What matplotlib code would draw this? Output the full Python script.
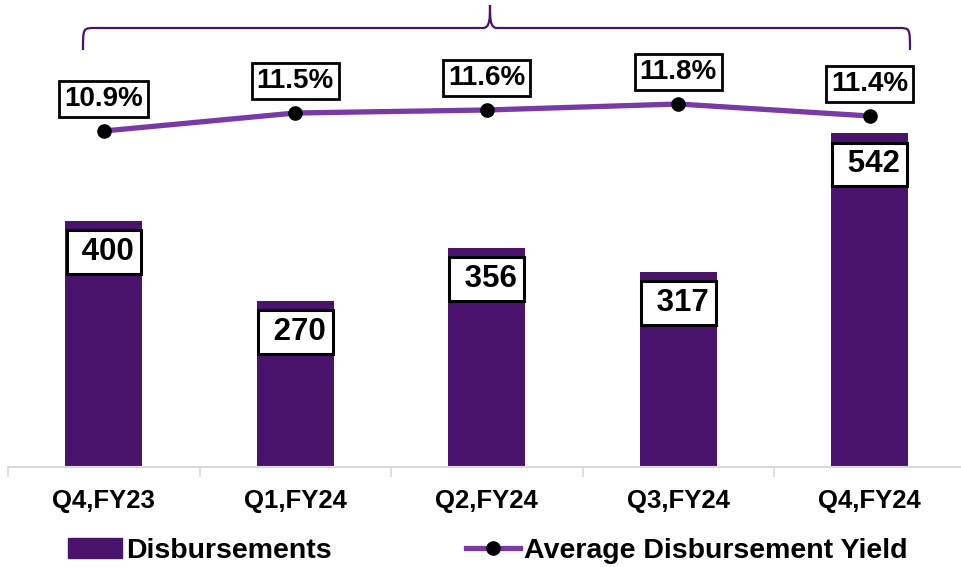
import matplotlib
matplotlib.use("Agg")
import matplotlib.pyplot as plt
from matplotlib.path import Path
from matplotlib.patches import PathPatch, Patch
from matplotlib.lines import Line2D
from matplotlib import font_manager

names = {f.name for f in font_manager.fontManager.ttflist}
fam = ['Liberation Sans Narrow'] if 'Liberation Sans Narrow' in names else ['Liberation Sans']
plt.rcParams['font.family'] = fam + ['DejaVu Sans']
plt.rcParams['font.weight'] = 'bold'

categories = ["Q4,FY23", "Q1,FY24", "Q2,FY24", "Q3,FY24", "Q4,FY24"]
disbursements = [400, 270, 356, 317, 542]
yields = [10.9, 11.5, 11.6, 11.8, 11.4]
yield_labels = ["10.9%", "11.5%", "11.6%", "11.8%", "11.4%"]

BAR = "#4A136C"
LINE = "#7A3AA6"

W, H = 961, 567
fig = plt.figure(figsize=(W / 100, H / 100), dpi=100)
ax = fig.add_axes([8 / W, (H - 467) / H, 5 * 191.5 / W, 467 / H])
ax2 = ax.twinx()
ax2.set_position(ax.get_position())

x = list(range(len(categories)))
ax.bar(x, disbursements, width=0.4, color=BAR, zorder=2)
ax.set_xlim(-0.5, 4.5)
ax.set_ylim(0, 467 / 0.6155)
ax2.set_ylim(10.9 - 336 / 30.0, 10.9 + 131 / 30.0)

ax2.plot(x, yields, color=LINE, lw=3.8, marker='o', markersize=9.5,
         markerfacecolor='black', markeredgecolor='black', zorder=5)

for s in ['top', 'right', 'left']:
    ax.spines[s].set_visible(False)
    ax2.spines[s].set_visible(False)
ax2.spines['bottom'].set_visible(False)
ax.spines['bottom'].set_color('#D9D9D9')
ax.spines['bottom'].set_linewidth(1.5)
ax.set_yticks([])
ax2.set_yticks([])
ax.set_xticks(x)
ax.set_xticklabels(categories, fontsize=18.5, fontweight='bold')
ax.tick_params(axis='x', which='major', length=0, pad=16)
ax.set_xticks([i - 0.5 for i in range(6)], minor=True)
ax.tick_params(axis='x', which='minor', length=7, width=1.2, color='#D9D9D9')

for i, v in enumerate(disbursements):
    ax.annotate(f" {v}", xy=(i, v), xytext=(0, -31), textcoords='offset pixels',
                ha='center', va='center', fontsize=22.5, fontweight='bold', zorder=6,
                bbox=dict(boxstyle='square,pad=0.22', fc='white', ec='black', lw=2.2))

for i, (v, lab) in enumerate(zip(yields, yield_labels)):
    ax2.annotate(lab, xy=(i, v), xytext=(0, 32), textcoords='offset pixels',
                 ha='center', va='center', fontsize=20, fontweight='bold', zorder=6,
                 bbox=dict(boxstyle='square,pad=0.18', fc='white', ec='black', lw=2.0))

# brace
def fx(px):
    return px / W
def fy(py):
    return 1 - py / H
verts = [(fx(83), fy(50)), (fx(83), fy(28)), (fx(83), fy(28)), (fx(95), fy(28)),
         (fx(483), fy(28)), (fx(490), fy(28)), (fx(490), fy(18)), (fx(490), fy(5)),
         (fx(490), fy(18)), (fx(490), fy(28)), (fx(497), fy(28)),
         (fx(898), fy(28)), (fx(910), fy(28)), (fx(910), fy(28)), (fx(910), fy(50))]
codes = [Path.MOVETO, Path.CURVE4, Path.CURVE4, Path.CURVE4,
         Path.LINETO, Path.CURVE4, Path.CURVE4, Path.CURVE4,
         Path.CURVE4, Path.CURVE4, Path.CURVE4,
         Path.LINETO, Path.CURVE4, Path.CURVE4, Path.CURVE4]
fig.patches.append(PathPatch(Path(verts, codes), transform=fig.transFigure,
                             fill=False, ec='#4A136C', lw=1.6))

handles = [Patch(facecolor=BAR, edgecolor=BAR),
           Line2D([0], [0], color=LINE, lw=3.8, marker='o', markersize=9.5,
                  markerfacecolor='black', markeredgecolor='black')]
fig.legend(handles, ["Disbursements", "Average Disbursement Yield"], ncol=2,
           loc='center left', bbox_to_anchor=(68 / W, 1 - 551 / H), frameon=False,
           prop={'size': 20.5, 'weight': 'bold'}, handlelength=1.9, handleheight=0.65,
           handletextpad=0.15, columnspacing=4.7, borderpad=0, borderaxespad=0)

fig.savefig("out.png", dpi=100)
